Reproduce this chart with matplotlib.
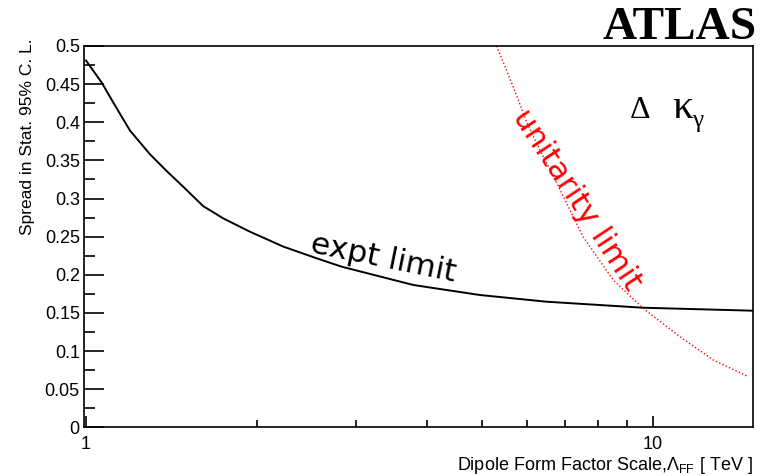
import matplotlib
matplotlib.use("Agg")
import matplotlib.pyplot as plt
from matplotlib.ticker import FixedLocator, NullFormatter

plt.rcParams['font.family'] = ['Liberation Sans', 'DejaVu Sans']
plt.rcParams['mathtext.fontset'] = 'custom'
plt.rcParams['mathtext.rm'] = 'Liberation Sans'
plt.rcParams['mathtext.it'] = 'Liberation Sans:italic'
plt.rcParams['mathtext.sf'] = 'Liberation Sans'

expt_x = [1.0, 1.066, 1.117, 1.196, 1.297, 1.388, 1.484, 1.61, 1.746, 1.946,
          2.228, 2.552, 2.825, 3.78, 4.95, 6.49, 9.61, 15.0]
expt_y = [0.481, 0.452, 0.426, 0.389, 0.358, 0.336, 0.3155, 0.290, 0.274, 0.2565,
          0.237, 0.2216, 0.2106, 0.1866, 0.1735, 0.1647, 0.1568, 0.1529]

# unitarity limit (red dotted curve)
unit_x = [5.30, 5.52, 5.75, 5.99, 6.32, 6.77, 7.14, 7.53, 8.51, 9.61, 11.16, 12.78, 14.73]
unit_y = [0.5, 0.468, 0.435, 0.400, 0.3636, 0.32, 0.285, 0.25, 0.1932, 0.156,
          0.1188, 0.0883, 0.0664]

y_major = [0, 0.05, 0.1, 0.15, 0.2, 0.25, 0.3, 0.35, 0.4, 0.45, 0.5]
y_labels = ['0', '0.05', '0.1', '0.15', '0.2', '0.25', '0.3', '0.35', '0.4', '0.45', '0.5']
x_major = [1, 10]
x_labels = ['1', '10']
x_minor = [2, 3, 4, 5, 6, 7, 8, 9]

fig = plt.figure(figsize=(7.72, 4.76), dpi=100)
ax = fig.add_axes([0.1088, 0.1023, 0.975 - 0.1088, 0.9034 - 0.1023])

ax.plot(expt_x, expt_y, color='black', lw=1.4)
ax.plot(unit_x, unit_y, color='red', lw=1.0, linestyle=(0, (1, 1.6)))

ax.set_xscale('log')
ax.set_xlim(0.992, 15.0)
ax.set_ylim(0, 0.5)

ax.xaxis.set_major_locator(FixedLocator(x_major))
ax.set_xticklabels(x_labels)
ax.xaxis.set_minor_locator(FixedLocator(x_minor))
ax.xaxis.set_minor_formatter(NullFormatter())
ax.yaxis.set_major_locator(FixedLocator(y_major))
ax.set_yticklabels(y_labels)
ax.yaxis.set_minor_locator(FixedLocator([v + 0.025 for v in y_major[:-1]]))

ax.tick_params(axis='y', which='major', direction='in', length=14.4, width=1.2,
               labelsize=13, pad=3)
ax.tick_params(axis='y', which='minor', direction='in', length=7.9, width=1.2)
ax.tick_params(axis='x', which='major', direction='in', length=7.9, width=1.2,
               labelsize=13, pad=6.5)
ax.tick_params(axis='x', which='minor', direction='in', length=5, width=1.2)
for s in ax.spines.values():
    s.set_linewidth(1.2)

fig.text(0.036, 0.92, 'Spread in Stat. 95% C. L.', rotation=90, ha='center', va='top',
         fontsize=12.5)
fig.text(0.9754, 0.012, r'Dipole Form Factor Scale,$\Lambda_{\mathrm{FF}}$ [ TeV ]',
         ha='right', va='baseline', fontsize=13)

ax.text(3.35, 0.2216, 'expt limit', rotation=-11.5, ha='center', va='center',
        fontsize=22.5, family='DejaVu Sans', color='black')
ax.text(7.34, 0.2983, 'unitarity limit', rotation=-56.6, ha='center', va='center',
        fontsize=22.5, family='DejaVu Sans', color='red')

# "Delta kappa_gamma" label, pieced together in a serif face
ax.text(0.8165, 0.811, 'Δ', transform=ax.transAxes, ha='left', va='baseline',
        fontsize=23, family='Liberation Serif')
ax.text(0.879, 0.811, 'κ', transform=ax.transAxes, ha='left', va='baseline',
        fontsize=30, family='Liberation Serif')
ax.text(0.910, 0.787, 'γ', transform=ax.transAxes, ha='left', va='baseline',
        fontsize=18, family='Liberation Serif')

fig.text(0.9806, 0.918, 'ATLAS', ha='right', va='baseline', fontsize=34,
         family='Liberation Serif', weight='bold')

fig.savefig('out.png', dpi=100)
